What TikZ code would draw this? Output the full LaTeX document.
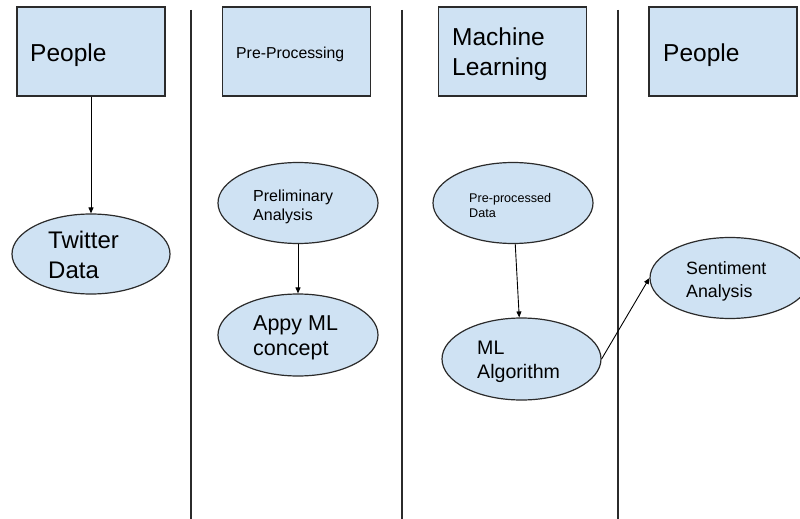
\documentclass[tikz,border=0pt]{standalone}
\usepackage{fontspec}
\setmainfont{Liberation Sans}
\usetikzlibrary{shapes.geometric,arrows.meta}
\definecolor{fillblue}{HTML}{CFE2F3}
\definecolor{edge}{HTML}{2B2B2B}
\tikzset{
  box/.style={draw=edge,line width=1.3pt,fill=fillblue,rectangle,inner sep=0pt,minimum width=148pt,minimum height=89pt},
  oval/.style={draw=edge,line width=1.2pt,fill=fillblue,ellipse,inner sep=0pt,minimum width=160pt,minimum height=81pt},
  lane/.style={draw=edge,line width=1.2pt},
  txt/.style={anchor=base west,inner sep=0pt,text=black},
  link/.style={draw=black,line width=0.9pt,-{Triangle[length=6pt,width=5pt]}},
}
\newcommand{\fs}[1]{\fontsize{#1}{#1}\selectfont}
\begin{document}
\begin{tikzpicture}[x=1pt,y=-1pt]
\useasboundingbox (0,0) rectangle (800,519);
\clip (0,0) rectangle (800,519);
\fill[white] (0,0) rectangle (800,519);
% lane separators
\coordinate (l1t) at (191,10); \coordinate (l1b) at (191,519);
\coordinate (l2t) at (402,10); \coordinate (l2b) at (402,519);
\coordinate (l3t) at (618,10); \coordinate (l3b) at (618,519);
\draw[lane] (l1t) -- (l1b);
\draw[lane] (l2t) -- (l2b);
\draw[lane] (l3t) -- (l3b);
% header boxes
\node[box] (b1) at (91,51.5) {};
\node[box] (b2) at (296.5,51.5) {};
\node[box] (b3) at (512.5,51.5) {};
\node[box] (b4) at (723,51.5) {};
\node[txt,font=\fs{24.5}] (t1) at (30,62) {People};
\node[txt,font=\fs{15.8}] (t2) at (236,59) {Pre-Processing};
\node[txt,font=\fs{24.5}] (t3a) at (452,46) {Machine};
\node[txt,font=\fs{24.5}] (t3b) at (452,75) {Learning};
\node[txt,font=\fs{24.5}] (t4) at (663,62) {People};
% ellipses
\node[oval,minimum width=158pt,minimum height=80pt] (tw) at (91,254) {};
\node[oval] (pa) at (298,203) {};
\node[oval,minimum height=82pt] (ml) at (298,335) {};
\node[oval] (pp) at (513,203) {};
\node[oval,minimum width=159pt,minimum height=82pt] (alg) at (521.5,359) {};
\node[oval] (sa) at (730,278) {};
% ellipse texts
\node[txt,font=\fs{24}] (tw1) at (48,248) {Twitter};
\node[txt,font=\fs{24}] (tw2) at (48,278) {Data};
\node[txt,font=\fs{16}] (pa1) at (253,201) {Preliminary};
\node[txt,font=\fs{16}] (pa2) at (253,220) {Analysis};
\node[txt,font=\fs{21.5}] (ml1) at (253,330) {Appy ML};
\node[txt,font=\fs{21.5}] (ml2) at (253,355) {concept};
\node[txt,font=\fs{12.6}] (pp1) at (469,202) {Pre-processed};
\node[txt,font=\fs{12.6}] (pp2) at (469,217) {Data};
\node[txt,font=\fs{19.6}] (alg1) at (477,354) {ML};
\node[txt,font=\fs{19.6}] (alg2) at (477,378) {Algorithm};
\node[txt,font=\fs{17.8}] (sa1) at (686,274) {Sentiment};
\node[txt,font=\fs{17.8}] (sa2) at (686,297) {Analysis};
% connectors
\draw[link] (b1.south) -- (tw.north);
\draw[link] (pa.south) -- (ml.north);
\draw[link] (pp) -- (alg);
\draw[link] (alg.east) -- (sa.west);
\end{tikzpicture}
\end{document}
